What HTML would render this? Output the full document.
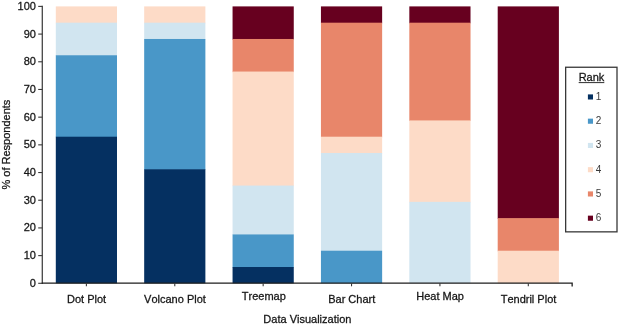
<!DOCTYPE html>
<html><head><meta charset="utf-8"><title>Chart</title>
<style>
html,body{margin:0;padding:0;background:#fff;}
svg{display:block}
text{font-family:"Liberation Sans",Arial,Helvetica,sans-serif;font-size:11px;fill:#161616;stroke:#161616;stroke-width:0.28px;font-kerning:none;}
</style></head><body>
<svg width="618" height="327" viewBox="0 0 618 327">
<rect width="618" height="327" fill="#ffffff"/>
<rect x="55.80" y="6.40" width="61.20" height="16.89" fill="#fddbc7"/>
<rect x="55.80" y="22.69" width="61.20" height="33.18" fill="#d1e5f0"/>
<rect x="55.80" y="55.26" width="61.20" height="82.04" fill="#4997c8"/>
<rect x="55.80" y="136.71" width="61.20" height="146.59" fill="#053061"/>
<rect x="144.18" y="6.40" width="61.20" height="16.89" fill="#fddbc7"/>
<rect x="144.18" y="22.69" width="61.20" height="16.89" fill="#d1e5f0"/>
<rect x="144.18" y="38.98" width="61.20" height="130.91" fill="#4997c8"/>
<rect x="144.18" y="169.28" width="61.20" height="114.02" fill="#053061"/>
<rect x="232.56" y="6.40" width="61.20" height="33.18" fill="#67001f"/>
<rect x="232.56" y="38.98" width="61.20" height="33.18" fill="#e8866a"/>
<rect x="232.56" y="71.55" width="61.20" height="114.62" fill="#fddbc7"/>
<rect x="232.56" y="185.57" width="61.20" height="49.46" fill="#d1e5f0"/>
<rect x="232.56" y="234.44" width="61.20" height="33.18" fill="#4997c8"/>
<rect x="232.56" y="267.01" width="61.20" height="16.29" fill="#053061"/>
<rect x="320.94" y="6.40" width="61.20" height="16.89" fill="#67001f"/>
<rect x="320.94" y="22.69" width="61.20" height="114.62" fill="#e8866a"/>
<rect x="320.94" y="136.71" width="61.20" height="16.89" fill="#fddbc7"/>
<rect x="320.94" y="152.99" width="61.20" height="98.33" fill="#d1e5f0"/>
<rect x="320.94" y="250.72" width="61.20" height="32.58" fill="#4997c8"/>
<rect x="409.32" y="6.40" width="61.20" height="16.89" fill="#67001f"/>
<rect x="409.32" y="22.69" width="61.20" height="98.33" fill="#e8866a"/>
<rect x="409.32" y="120.42" width="61.20" height="82.04" fill="#fddbc7"/>
<rect x="409.32" y="201.86" width="61.20" height="81.44" fill="#d1e5f0"/>
<rect x="497.70" y="6.40" width="61.20" height="212.35" fill="#67001f"/>
<rect x="497.70" y="218.15" width="61.20" height="33.18" fill="#e8866a"/>
<rect x="497.70" y="250.72" width="61.20" height="32.58" fill="#fddbc7"/>
<g stroke-width="1.3" fill="none">
<line x1="42.3" y1="5.8500000000000005" x2="42.3" y2="283.90000000000003" stroke="#454545"/>
<polyline points="41.699999999999996,283.2 572.15,283.2 572.15,286.6" stroke="#1e1e1e"/>
</g>
<g stroke="#383838" stroke-width="1.1" fill="none">
<line x1="38.20" y1="283.30" x2="42.3" y2="283.30"/>
<line x1="38.20" y1="255.61" x2="42.3" y2="255.61"/>
<line x1="38.20" y1="227.92" x2="42.3" y2="227.92"/>
<line x1="38.20" y1="200.23" x2="42.3" y2="200.23"/>
<line x1="38.20" y1="172.54" x2="42.3" y2="172.54"/>
<line x1="38.20" y1="144.85" x2="42.3" y2="144.85"/>
<line x1="38.20" y1="117.16" x2="42.3" y2="117.16"/>
<line x1="38.20" y1="89.47" x2="42.3" y2="89.47"/>
<line x1="38.20" y1="61.78" x2="42.3" y2="61.78"/>
<line x1="38.20" y1="34.09" x2="42.3" y2="34.09"/>
<line x1="38.20" y1="6.40" x2="42.3" y2="6.40"/>
<line x1="86.40" y1="283.3" x2="86.40" y2="286.3"/>
<line x1="174.78" y1="283.3" x2="174.78" y2="286.3"/>
<line x1="263.16" y1="283.3" x2="263.16" y2="286.3"/>
<line x1="351.54" y1="283.3" x2="351.54" y2="286.3"/>
<line x1="439.92" y1="283.3" x2="439.92" y2="286.3"/>
<line x1="528.30" y1="283.3" x2="528.30" y2="286.3"/>
</g>
<text x="35.9" y="286.80" text-anchor="end">0</text>
<text x="35.9" y="259.11" text-anchor="end">10</text>
<text x="35.9" y="231.42" text-anchor="end">20</text>
<text x="35.9" y="203.73" text-anchor="end">30</text>
<text x="35.9" y="176.04" text-anchor="end">40</text>
<text x="35.9" y="148.35" text-anchor="end">50</text>
<text x="35.9" y="120.66" text-anchor="end">60</text>
<text x="35.9" y="92.97" text-anchor="end">70</text>
<text x="35.9" y="65.28" text-anchor="end">80</text>
<text x="35.9" y="37.59" text-anchor="end">90</text>
<text x="35.9" y="9.90" text-anchor="end">100</text>
<text x="86.60" y="302.5" text-anchor="middle">Dot Plot</text>
<text x="174.98" y="302.5" text-anchor="middle">Volcano Plot</text>
<text x="263.86" y="299.9" text-anchor="middle">Treemap</text>
<text x="351.74" y="302.5" text-anchor="middle">Bar Chart</text>
<text x="440.12" y="299.9" text-anchor="middle">Heat Map</text>
<text x="528.50" y="302.5" text-anchor="middle">Tendril Plot</text>
<text x="307.4" y="322.9" text-anchor="middle">Data Visualization</text>
<text transform="translate(9.9 144.6) rotate(-90)" text-anchor="middle">% of Respondents</text>
<rect x="565.65" y="67.25" width="51.35" height="164.6" fill="#fff" stroke="#383838" stroke-width="1.3"/>
<text x="591.5" y="81.2" text-anchor="middle">Rank</text>
<line x1="578.7" y1="82.6" x2="604.3" y2="82.6" stroke="#161616" stroke-width="0.9"/>
<rect x="587.9" y="94.40" width="5.1" height="5.1" fill="#053061"/>
<text x="595.7" y="99.80" style="font-size:10px;fill:#3a3a3a;stroke:none">1</text>
<rect x="587.9" y="118.65" width="5.1" height="5.1" fill="#4997c8"/>
<text x="595.7" y="124.05" style="font-size:10px;fill:#3a3a3a;stroke:none">2</text>
<rect x="587.9" y="142.90" width="5.1" height="5.1" fill="#d1e5f0"/>
<text x="595.7" y="148.30" style="font-size:10px;fill:#3a3a3a;stroke:none">3</text>
<rect x="587.9" y="167.15" width="5.1" height="5.1" fill="#fddbc7"/>
<text x="595.7" y="172.55" style="font-size:10px;fill:#3a3a3a;stroke:none">4</text>
<rect x="587.9" y="191.40" width="5.1" height="5.1" fill="#e8866a"/>
<text x="595.7" y="196.80" style="font-size:10px;fill:#3a3a3a;stroke:none">5</text>
<rect x="587.9" y="215.65" width="5.1" height="5.1" fill="#67001f"/>
<text x="595.7" y="221.05" style="font-size:10px;fill:#3a3a3a;stroke:none">6</text>
</svg></body></html>
